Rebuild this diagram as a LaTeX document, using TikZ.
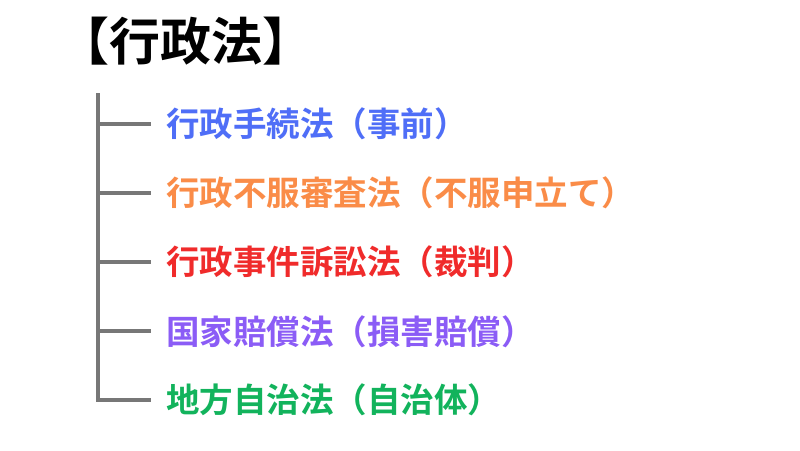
\documentclass[tikz,border=0pt]{standalone}
\usepackage{fontspec}
\newfontfamily\cjkb{Noto Sans CJK JP Bold}
\definecolor{lgray}{HTML}{777777}
\definecolor{cblue}{HTML}{4F6EF7}
\definecolor{corange}{HTML}{FA8C48}
\definecolor{cred}{HTML}{F02B2B}
\definecolor{cpurple}{HTML}{8B5CF6}
\definecolor{cgreen}{HTML}{12B35C}
\begin{document}
\begin{tikzpicture}[x=1pt,y=-1pt,
  branch/.style={draw=lgray,line width=4pt},
  item/.style={anchor=west,inner sep=0pt,font=\cjkb\fontsize{33.5}{40}\selectfont}]
\useasboundingbox[fill=white] (0,0) rectangle (800,450);
\node[anchor=west,inner sep=0pt,font=\cjkb\fontsize{51}{60}\selectfont] (title) at (58.5,41) {【行政法】};
\coordinate (top) at (97.5,93);
\coordinate (bot) at (97.5,400);
\node[item,text=cblue]   (a) at (166,123.5) {行政手続法（事前）};
\node[item,text=corange] (b) at (166,192.7) {行政不服審査法（不服申立て）};
\node[item,text=cred]    (c) at (166,262)   {行政事件訴訟法（裁判）};
\node[item,text=cpurple] (d) at (166,331.3) {国家賠償法（損害賠償）};
\node[item,text=cgreen]  (e) at (166,400)   {地方自治法（自治体）};
\draw[branch] (top) -- (bot) -- ([xshift=-15pt]e.west);
\foreach \n in {a,b,c,d}{
  \draw[branch] (top |- \n.west) -- ([xshift=-15pt]\n.west);
}
\end{tikzpicture}
\end{document}
